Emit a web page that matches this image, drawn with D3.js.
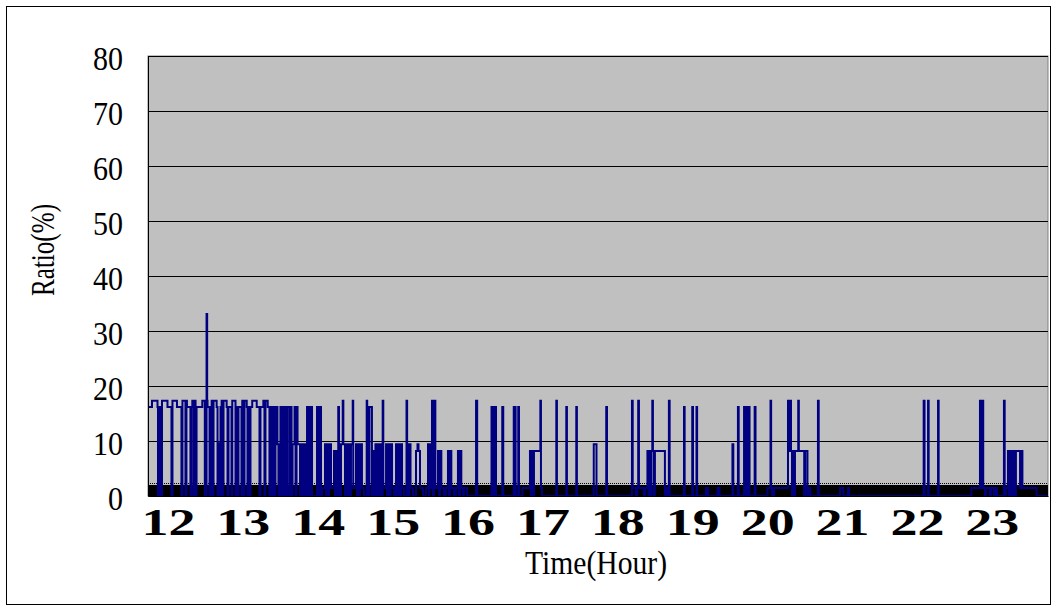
<!DOCTYPE html>
<html>
<head>
<meta charset="utf-8">
<script src="https://cdn.jsdelivr.net/npm/d3@7"></script>
<style>
  html, body { margin: 0; padding: 0; background: #ffffff; }
  svg { display: block; }
</style>
</head>
<body>
<svg id="chart" width="1057" height="611"></svg>
<script>
// Time of day in minutes after midnight; each ratio holds until the next time (step series).
const times = [
  704.0, 707.2, 711.6, 712.0, 712.8, 714.4, 715.2, 719.6, 722.8, 723.6, 727.2, 730.8, 731.6, 734.0, 734.8, 735.2,
  738.0, 738.8, 739.5, 740.5, 741.3, 742.1, 742.9, 747.5, 749.5, 750.9, 751.4, 751.7, 753.3, 754.1, 755.0, 755.7,
  756.5, 759.0, 759.7, 760.5, 761.3, 762.1, 763.0, 763.7, 764.5, 767.0, 767.7, 768.5, 770.9, 771.5, 774.1, 774.9,
  775.7, 776.5, 778.9, 779.5, 780.5, 781.3, 783.1, 783.7, 784.5, 785.3, 786.1, 787.5, 791.1, 793.3, 794.1, 796.4,
  797.3, 798.1, 799.9,
  801.3, 802.1, 803.7, 804.5, 805.3, 806.1, 807.7, 808.5, 809.3, 810.1, 810.9, 811.7, 813.3, 814.1, 814.9, 815.7,
  817.4, 818.2, 819.0, 819.8, 821.4, 822.2, 823.0, 823.8,
  825.8, 826.6, 828.2, 829.0, 830.2, 831.4, 832.2, 833.0, 833.8, 834.6, 835.4, 839.4, 840.6, 841.4, 842.6, 843.4,
  845.8, 846.6, 847.4, 848.2, 849.0, 850.6, 853.0, 853.8, 854.6, 855.4, 856.4, 857.0, 857.8, 858.6, 860.0, 860.5,
  861.8, 862.6, 863.4, 864.2, 865.8, 866.6, 868.0, 868.4, 870.6, 871.4, 872.2, 873.0, 873.8, 875.4, 877.0,
  879.2, 879.6, 880.6, 881.4, 883.4, 884.2, 885.4, 886.2, 887.4, 888.2, 889.0, 889.8, 890.6, 892.0, 892.5,
  894.7, 895.5, 896.3, 897.5, 898.3, 899.5, 901.1, 902.7, 903.5, 904.3, 905.9, 906.7, 907.5, 909.1, 911.1, 911.6,
  912.7, 913.5, 914.3, 916.3, 918.7, 919.9, 920.7, 921.9, 924.3, 926.7, 928.3, 929.1, 929.5, 930.3, 931.5, 932.3,
  933.1, 934.2, 936.3, 937.1, 937.9, 939.0, 941.1, 942.7, 944.3, 945.1, 945.9, 947.0, 949.1, 950.7, 952.3, 953.1,
  953.9, 955.0, 956.3, 957.1, 959.6,
  966.8, 967.7, 979.2, 980.0, 980.8, 981.6, 982.0, 982.8, 987.8, 988.6, 997.0, 997.6, 998.0, 998.5, 1000.6, 1001.2,
  1004.0, 1010.0, 1010.8, 1011.6, 1012.4, 1013.2, 1018.3, 1018.8, 1019.6, 1031.1, 1031.6, 1039.1, 1039.6, 1047.1,
  1047.6, 1061.1, 1063.3,
  1071.1, 1071.7, 1091.7, 1092.3, 1094.9, 1096.0, 1096.7, 1097.3, 1101.3, 1102.1, 1104.1, 1104.9, 1105.7, 1106.5,
  1107.3, 1108.0, 1108.5, 1109.3, 1110.1, 1118.1, 1118.9, 1120.5, 1121.3, 1121.9, 1133.4, 1133.9, 1140.0, 1140.6,
  1143.4, 1143.9, 1151.0, 1152.6, 1160.2, 1161.8, 1172.2, 1172.9, 1176.6, 1177.2, 1181.5, 1182.3, 1183.1, 1183.9,
  1184.7, 1185.9, 1190.0, 1190.7, 1200.3, 1202.7, 1203.2, 1203.9, 1205.5, 1216.7, 1217.5, 1218.3, 1219.1, 1219.9,
  1220.7, 1221.5, 1222.3, 1224.9, 1225.4, 1228.9, 1229.7, 1230.5, 1232.3, 1232.9, 1234.5, 1240.7, 1241.3,
  1258.4, 1261.0, 1264.8, 1265.6, 1325.4, 1326.1, 1328.9, 1329.4, 1336.9, 1337.4, 1363.7, 1370.5, 1371.3, 1372.1,
  1373.1, 1374.5, 1375.3, 1378.5, 1379.3, 1381.7, 1382.5, 1384.1, 1389.7, 1390.3, 1391.3, 1392.9, 1393.7, 1394.5,
  1395.3, 1396.1, 1396.9, 1397.7, 1398.5, 1399.3, 1402.6, 1403.4, 1404.5, 1415.8, 1425.0
];

// Ratio (%) starting at each time above
const ratio = [
  16.2, 17.3, 16.2, 0, 16.2, 0, 17.3, 16.2, 0, 17.3, 16.2, 0, 17.3, 0, 17.3, 16.2,
  0, 16.2, 17.3, 0, 17.3, 0, 16.2, 17.3, 0, 33.1, 17.3, 16.2, 0, 16.2, 17.3, 0,
  17.3, 16.2, 0, 9.6, 0, 16.2, 17.3, 0, 17.3, 16.2, 0, 16.2, 0, 17.3, 0, 16.2,
  0, 16.2, 0, 17.3, 0, 17.3, 16.2, 0, 16.2, 0, 16.2, 17.3, 16.2, 0, 16.2, 17.3,
  0, 17.3, 16.2,
  0, 16.2, 0, 16.2, 0, 16.2, 9.4, 0, 9.4, 16.2, 0, 16.2, 0, 16.2, 0, 16.2,
  0, 16.2, 0, 9.4, 16.2, 0, 16.2, 9.4,
  0, 9.4, 0, 9.4, 0, 16.2, 0, 16.2, 0, 16.2, 0, 16.2, 0, 16.2, 0, 1.45,
  9.4, 0, 9.4, 0, 9.4, 1.45, 8.2, 0, 8.2, 0, 16.2, 9.4, 0, 9.4, 17.3, 9.4,
  0, 9.4, 0, 9.4, 0, 9.4, 17.3, 1.45, 9.4, 0, 9.4, 0, 9.4, 1.45, 0,
  17.3, 16.2, 0, 16.2, 0, 8.2, 0, 9.4, 0, 9.4, 0, 9.4, 0, 17.3, 1.45,
  9.4, 0, 9.4, 0, 9.4, 1.45, 0, 9.4, 0, 9.4, 0, 9.4, 1.45, 0, 17.3, 9.4,
  0, 9.4, 1.45, 0, 8.2, 9.4, 8.2, 1.45, 0, 1.45, 9.4, 0, 9.4, 1.45, 17.3, 0,
  17.3, 1.45, 8.2, 0, 8.2, 1.45, 0, 1.45, 8.2, 0, 8.2, 1.45, 0, 1.45, 8.2, 0,
  8.2, 1.45, 0, 1.45, 0,
  17.3, 0, 16.2, 0, 16.2, 0, 16.2, 0, 16.2, 0, 16.2, 0, 16.2, 0, 16.2, 0,
  1.45, 8.2, 0, 8.2, 0, 8.2, 17.3, 1.45, 0, 17.3, 0, 16.2, 0, 16.2,
  0, 9.4, 0,
  16.2, 0, 17.3, 1.45, 0, 1.45, 17.3, 1.45, 0, 1.45, 8.2, 0, 8.2, 0,
  8.2, 17.3, 8.2, 0, 8.2, 0, 1.45, 0, 17.3, 0, 16.2, 0, 16.2, 0,
  16.2, 0, 1.45, 0, 1.45, 0, 9.4, 0, 16.2, 0, 16.2, 0, 16.2, 0,
  16.2, 0, 16.2, 0, 1.45, 17.3, 1.45, 0, 1.45, 17.3, 8.2, 17.3, 8.2, 0,
  8.2, 0, 8.2, 17.3, 8.2, 8.2, 0, 8.2, 0, 1.45, 0, 17.3, 0,
  1.45, 0, 1.45, 0, 17.3, 0, 17.3, 0, 17.3, 0, 1.45, 17.3, 1.45, 17.3,
  1.45, 0, 1.45, 0, 1.45, 0, 1.45, 0, 17.3, 0, 1.45, 8.2, 0, 8.2,
  0, 8.2, 0, 8.2, 0, 8.2, 1.45, 8.2, 1.45, 0, 0
];

// Low-level background activity, shown as a dense band along the floor
const bandTimes = [704.0, 1425.0];
const bandLevel = [2.0, 2.0];

const hourTicks = [720, 780, 840, 900, 960, 1020, 1080, 1140, 1200, 1260, 1320, 1380];
const ratioTicks = [0, 10, 20, 30, 40, 50, 60, 70, 80];

const svg = d3.select("#chart");
const plot = { left: 148, right: 1048, top: 56, bottom: 496 };
const serif = "'Liberation Serif', 'Times New Roman', serif";

// Chart frame
svg.append("rect")
  .attr("x", 6.5).attr("y", 6.5)
  .attr("width", 1044).attr("height", 598)
  .attr("fill", "#ffffff").attr("stroke", "#000000").attr("stroke-width", 1);

const x = d3.scaleLinear().domain([704, 1425]).range([plot.left, plot.right]);
const y = d3.scaleLinear().domain([0, 80]).range([plot.bottom, plot.top]);

// Plot area
svg.append("rect")
  .attr("x", plot.left).attr("y", plot.top)
  .attr("width", plot.right - plot.left).attr("height", plot.bottom - plot.top)
  .attr("fill", "#c0c0c0").attr("stroke", "#808080").attr("stroke-width", 1);

// Horizontal gridlines (including the top one at 80)
svg.append("g")
  .selectAll("line")
  .data(ratioTicks.filter(v => v > 0))
  .join("line")
  .attr("x1", plot.left).attr("x2", plot.right)
  .attr("y1", d => Math.round(y(d)) + 0.5).attr("y2", d => Math.round(y(d)) + 0.5)
  .attr("stroke", "#000000").attr("stroke-width", 1);

// Floor band
const band = bandTimes.map((t, i) => ({ t, v: bandLevel[i] }));
svg.append("path")
  .datum(band)
  .attr("d", d3.area().x(d => x(d.t)).y0(y(0)).y1(d => y(d.v)))
  .attr("fill", "#000000");
svg.append("path")
  .datum(band)
  .attr("d", d3.line().x(d => x(d.t)).y(d => y(d.v) - 1.5))
  .attr("fill", "none")
  .attr("stroke", "#000000")
  .attr("stroke-width", 1)
  .attr("stroke-dasharray", "1,1");

// Ratio series
const series = times.map((t, i) => ({ t, v: ratio[i] }));
svg.append("path")
  .datum(series)
  .attr("d", d3.line().x(d => x(d.t)).y(d => y(d.v)).curve(d3.curveStepAfter))
  .attr("fill", "none")
  .attr("stroke", "#000080")
  .attr("stroke-width", 2);

// Y axis
const yAxis = svg.append("g")
  .attr("transform", `translate(${plot.left},0)`)
  .call(d3.axisLeft(y).tickValues(ratioTicks).tickSize(0).tickPadding(25).tickFormat(d3.format("d")));
yAxis.select(".domain").attr("stroke", "#000000");
yAxis.selectAll("text")
  .attr("font-family", serif)
  .attr("font-size", 33)
  .attr("fill", "#000000")
  .attr("dy", "0.42em")
  .attr("textLength", d => String(d).length * 15)
  .attr("lengthAdjust", "spacingAndGlyphs");

// X axis (hour labels)
const xAxis = svg.append("g")
  .attr("transform", `translate(0,${plot.bottom})`)
  .call(d3.axisBottom(x).tickValues(hourTicks).tickSize(0).tickFormat(m => String(m / 60)));
xAxis.select(".domain").attr("stroke", "#000000");
xAxis.selectAll("text")
  .attr("y", 39)
  .attr("dy", 0)
  .attr("font-family", serif)
  .attr("font-weight", "bold")
  .attr("font-size", 37)
  .attr("fill", "#000000")
  .attr("textLength", 54)
  .attr("lengthAdjust", "spacingAndGlyphs");

// Axis titles
svg.append("text")
  .attr("x", 596).attr("y", 574)
  .attr("text-anchor", "middle")
  .attr("font-family", serif)
  .attr("font-size", 34)
  .attr("fill", "#000000")
  .attr("textLength", 142)
  .attr("lengthAdjust", "spacingAndGlyphs")
  .text("Time(Hour)");

svg.append("text")
  .attr("transform", "translate(54,250) rotate(-90)")
  .attr("text-anchor", "middle")
  .attr("font-family", serif)
  .attr("font-size", 34)
  .attr("fill", "#000000")
  .attr("textLength", 92)
  .attr("lengthAdjust", "spacingAndGlyphs")
  .text("Ratio(%)");
</script>
</body>
</html>
